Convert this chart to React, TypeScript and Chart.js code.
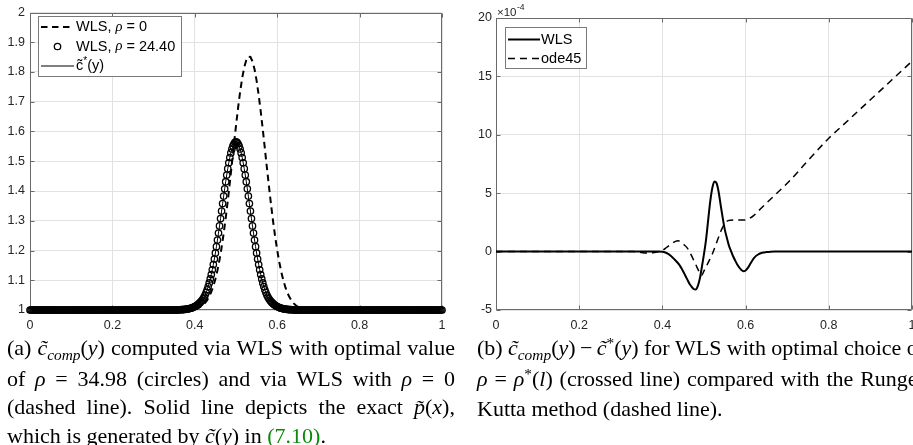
import React, { useEffect, useRef } from 'react';
import { Chart, registerables } from 'chart.js';

Chart.register(...registerables);

const SANS = "'Liberation Sans', Arial, Helvetica, sans-serif";
const SERIF = "'Liberation Serif', 'Times New Roman', Times, serif";
const GRID = '#e2e2e2';
const FRAME = '#6a6a6a';
const TICK = '#262626';

// ---------------- data: left panel ----------------
const leftXTicks = [0, 0.2, 0.4, 0.6, 0.8, 1];
const leftXTickLabels = ['0', '0.2', '0.4', '0.6', '0.8', '1'];
const leftYTicks = [1, 1.1, 1.2, 1.3, 1.4, 1.5, 1.6, 1.7, 1.8, 1.9, 2];
const leftYTickLabels = ['1', '1.1', '1.2', '1.3', '1.4', '1.5', '1.6', '1.7', '1.8', '1.9', '2'];

const circleX = [
  0, 0.0025, 0.005, 0.0075, 0.01, 0.0125, 0.015, 0.0175, 0.02, 0.0225, 0.025, 0.0275, 0.03, 0.0325, 0.035, 0.0375, 0.04, 0.0425, 0.045, 0.0475,
  0.05, 0.0525, 0.055, 0.0575, 0.06, 0.0625, 0.065, 0.0675, 0.07, 0.0725, 0.075, 0.0775, 0.08, 0.0825, 0.085, 0.0875, 0.09, 0.0925, 0.095, 0.0975,
  0.1, 0.1025, 0.105, 0.1075, 0.11, 0.1125, 0.115, 0.1175, 0.12, 0.1225, 0.125, 0.1275, 0.13, 0.1325, 0.135, 0.1375, 0.14, 0.1425, 0.145, 0.1475,
  0.15, 0.1525, 0.155, 0.1575, 0.16, 0.1625, 0.165, 0.1675, 0.17, 0.1725, 0.175, 0.1775, 0.18, 0.1825, 0.185, 0.1875, 0.19, 0.1925, 0.195, 0.1975,
  0.2, 0.2025, 0.205, 0.2075, 0.21, 0.2125, 0.215, 0.2175, 0.22, 0.2225, 0.225, 0.2275, 0.23, 0.2325, 0.235, 0.2375, 0.24, 0.2425, 0.245, 0.2475,
  0.25, 0.2525, 0.255, 0.2575, 0.26, 0.2625, 0.265, 0.2675, 0.27, 0.2725, 0.275, 0.2775, 0.28, 0.2825, 0.285, 0.2875, 0.29, 0.2925, 0.295, 0.2975,
  0.3, 0.3025, 0.305, 0.3075, 0.31, 0.3125, 0.315, 0.3175, 0.32, 0.3225, 0.325, 0.3275, 0.33, 0.3325, 0.335, 0.3375, 0.34, 0.3425, 0.345, 0.3475,
  0.35, 0.3525, 0.355, 0.3575, 0.36, 0.3625, 0.365, 0.3675, 0.37, 0.3725, 0.375, 0.3775, 0.38, 0.3825, 0.385, 0.3875, 0.39, 0.3925, 0.395, 0.3975,
  0.4, 0.4025, 0.405, 0.4075, 0.41, 0.4125, 0.415, 0.4175, 0.42, 0.4225, 0.425, 0.4275, 0.43, 0.4325, 0.435, 0.4375, 0.44, 0.4425, 0.445, 0.4475,
  0.45, 0.4525, 0.455, 0.4575, 0.46, 0.4625, 0.465, 0.4675, 0.47, 0.4725, 0.475, 0.4775, 0.48, 0.4825, 0.485, 0.4875, 0.49, 0.4925, 0.495, 0.4975,
  0.5, 0.5025, 0.505, 0.5075, 0.51, 0.5125, 0.515, 0.5175, 0.52, 0.5225, 0.525, 0.5275, 0.53, 0.5325, 0.535, 0.5375, 0.54, 0.5425, 0.545, 0.5475,
  0.55, 0.5525, 0.555, 0.5575, 0.56, 0.5625, 0.565, 0.5675, 0.57, 0.5725, 0.575, 0.5775, 0.58, 0.5825, 0.585, 0.5875, 0.59, 0.5925, 0.595, 0.5975,
  0.6, 0.6025, 0.605, 0.6075, 0.61, 0.6125, 0.615, 0.6175, 0.62, 0.6225, 0.625, 0.6275, 0.63, 0.6325, 0.635, 0.6375, 0.64, 0.6425, 0.645, 0.6475,
  0.65, 0.6525, 0.655, 0.6575, 0.66, 0.6625, 0.665, 0.6675, 0.67, 0.6725, 0.675, 0.6775, 0.68, 0.6825, 0.685, 0.6875, 0.69, 0.6925, 0.695, 0.6975,
  0.7, 0.7025, 0.705, 0.7075, 0.71, 0.7125, 0.715, 0.7175, 0.72, 0.7225, 0.725, 0.7275, 0.73, 0.7325, 0.735, 0.7375, 0.74, 0.7425, 0.745, 0.7475,
  0.75, 0.7525, 0.755, 0.7575, 0.76, 0.7625, 0.765, 0.7675, 0.77, 0.7725, 0.775, 0.7775, 0.78, 0.7825, 0.785, 0.7875, 0.79, 0.7925, 0.795, 0.7975,
  0.8, 0.8025, 0.805, 0.8075, 0.81, 0.8125, 0.815, 0.8175, 0.82, 0.8225, 0.825, 0.8275, 0.83, 0.8325, 0.835, 0.8375, 0.84, 0.8425, 0.845, 0.8475,
  0.85, 0.8525, 0.855, 0.8575, 0.86, 0.8625, 0.865, 0.8675, 0.87, 0.8725, 0.875, 0.8775, 0.88, 0.8825, 0.885, 0.8875, 0.89, 0.8925, 0.895, 0.8975,
  0.9, 0.9025, 0.905, 0.9075, 0.91, 0.9125, 0.915, 0.9175, 0.92, 0.9225, 0.925, 0.9275, 0.93, 0.9325, 0.935, 0.9375, 0.94, 0.9425, 0.945, 0.9475,
  0.95, 0.9525, 0.955, 0.9575, 0.96, 0.9625, 0.965, 0.9675, 0.97, 0.9725, 0.975, 0.9775, 0.98, 0.9825, 0.985, 0.9875, 0.99, 0.9925, 0.995, 0.9975,
  1,
];

const circleY = [
  1, 1, 1, 1, 1, 1, 1, 1, 1, 1, 1, 1, 1, 1, 1, 1, 1, 1, 1, 1,
  1, 1, 1, 1, 1, 1, 1, 1, 1, 1, 1, 1, 1, 1, 1, 1, 1, 1, 1, 1,
  1, 1, 1, 1, 1, 1, 1, 1, 1, 1, 1, 1, 1, 1, 1, 1, 1, 1, 1, 1,
  1, 1, 1, 1, 1, 1, 1, 1, 1, 1, 1, 1, 1, 1, 1, 1, 1, 1, 1, 1,
  1, 1, 1, 1, 1, 1, 1, 1, 1, 1, 1, 1, 1, 1, 1, 1, 1, 1, 1, 1,
  1, 1, 1, 1, 1, 1, 1, 1, 1, 1, 1, 1, 1, 1, 1, 1, 1, 1, 1, 1,
  1, 1, 1, 1, 1, 1, 1, 1, 1, 1, 1, 1, 1, 1, 1, 1, 1, 1, 1, 1,
  1, 1, 1, 1, 1.0005, 1.0006, 1.0008, 1.001, 1.0012, 1.0015, 1.0019, 1.0023, 1.0028, 1.0034, 1.0041, 1.0049, 1.0059, 1.007, 1.0083, 1.0098,
  1.0115, 1.0135, 1.0158, 1.0184, 1.0213, 1.0246, 1.0284, 1.0328, 1.0378, 1.0436, 1.0505, 1.0585, 1.0678, 1.0787, 1.0909, 1.1043, 1.1191, 1.1353, 1.1527, 1.1715,
  1.1917, 1.2129, 1.2352, 1.2586, 1.2827, 1.3075, 1.3326, 1.3578, 1.3828, 1.4074, 1.4313, 1.4537, 1.4751, 1.4949, 1.5126, 1.5281, 1.5411, 1.5514, 1.5589, 1.5635,
  1.565, 1.5635, 1.5589, 1.5514, 1.5411, 1.5281, 1.5126, 1.4949, 1.4751, 1.4537, 1.4313, 1.4074, 1.3828, 1.3578, 1.3326, 1.3075, 1.2827, 1.2586, 1.2352, 1.2129,
  1.1917, 1.1715, 1.1527, 1.1353, 1.1191, 1.1043, 1.0909, 1.0787, 1.0678, 1.0585, 1.0505, 1.0436, 1.0378, 1.0328, 1.0284, 1.0246, 1.0213, 1.0184, 1.0158, 1.0135,
  1.0115, 1.0098, 1.0083, 1.007, 1.0059, 1.0049, 1.0041, 1.0034, 1.0028, 1.0023, 1.0019, 1.0015, 1.0012, 1.001, 1.0008, 1.0006, 1.0005, 1, 1, 1,
  1, 1, 1, 1, 1, 1, 1, 1, 1, 1, 1, 1, 1, 1, 1, 1, 1, 1, 1, 1,
  1, 1, 1, 1, 1, 1, 1, 1, 1, 1, 1, 1, 1, 1, 1, 1, 1, 1, 1, 1,
  1, 1, 1, 1, 1, 1, 1, 1, 1, 1, 1, 1, 1, 1, 1, 1, 1, 1, 1, 1,
  1, 1, 1, 1, 1, 1, 1, 1, 1, 1, 1, 1, 1, 1, 1, 1, 1, 1, 1, 1,
  1, 1, 1, 1, 1, 1, 1, 1, 1, 1, 1, 1, 1, 1, 1, 1, 1, 1, 1, 1,
  1, 1, 1, 1, 1, 1, 1, 1, 1, 1, 1, 1, 1, 1, 1, 1, 1, 1, 1, 1,
  1, 1, 1, 1, 1, 1, 1, 1, 1, 1, 1, 1, 1, 1, 1, 1, 1, 1, 1, 1,
  1,
];

const dashX = [
  0, 0.1, 0.2, 0.3, 0.38, 0.385, 0.39, 0.395, 0.4, 0.405, 0.41, 0.415, 0.42, 0.425, 0.43, 0.435, 0.44, 0.445, 0.45, 0.455,
  0.46, 0.465, 0.47, 0.475, 0.48, 0.485, 0.49, 0.495, 0.5, 0.505, 0.51, 0.515, 0.52, 0.525, 0.53, 0.535, 0.54, 0.545, 0.55, 0.555,
  0.56, 0.565, 0.57, 0.575, 0.58, 0.585, 0.59, 0.595, 0.6, 0.605, 0.61, 0.615, 0.62, 0.625, 0.63, 0.635, 0.64, 0.645, 0.65, 0.655,
  0.66, 0.665, 0.67, 0.675, 0.68, 0.8, 0.9, 1,
];
const dashY = [
  1, 1, 1, 1, 1.0006, 1.001, 1.0016, 1.0024, 1.0037, 1.0055, 1.0081, 1.0118, 1.0169, 1.0238, 1.033, 1.0451, 1.0606, 1.0801, 1.1043, 1.1337,
  1.1688, 1.2098, 1.2567, 1.3091, 1.3665, 1.4277, 1.4915, 1.5561, 1.6194, 1.6792, 1.7332, 1.7794, 1.8155, 1.84, 1.8519, 1.8506, 1.8361, 1.8091, 1.7709, 1.723,
  1.6677, 1.607, 1.5432, 1.4786, 1.4152, 1.3546, 1.2981, 1.2468, 1.2011, 1.1613, 1.1274, 1.0991, 1.0758, 1.0571, 1.0424, 1.031, 1.0223, 1.0158, 1.011, 1.0076,
  1.0051, 1.0034, 1.0022, 1.0014, 1.0009, 1, 1, 1,
];

// ---------------- data: right panel (values in units of 1e-4) ----------------
const rightXTicks = [0, 0.2, 0.4, 0.6, 0.8, 1];
const rightXTickLabels = ['0', '0.2', '0.4', '0.6', '0.8', '1'];
const rightYTicks = [-5, 0, 5, 10, 15, 20];
const rightYTickLabels = ['-5', '0', '5', '10', '15', '20'];

const wlsX = [
  0, 0.1, 0.2, 0.3, 0.38, 0.39, 0.4, 0.41, 0.42, 0.43, 0.44, 0.45, 0.455, 0.46, 0.465, 0.47, 0.475, 0.48, 0.485, 0.49,
  0.495, 0.5, 0.505, 0.51, 0.515, 0.52, 0.525, 0.53, 0.535, 0.54, 0.545, 0.55, 0.555, 0.56, 0.565, 0.57, 0.575, 0.58, 0.585, 0.59,
  0.595, 0.6, 0.605, 0.61, 0.615, 0.62, 0.63, 0.64, 0.65, 0.66, 0.67, 0.7, 0.8, 0.9, 1,
];
const wlsY = [
  0, 0, 0, 0, 0, 0, -0.02, -0.12, -0.35, -0.7, -1.1, -1.7, -2.05, -2.4, -2.75, -3.0, -3.2, -3.24, -2.95, -2.3,
  -1.3, -0.2, 1.05, 2.7, 4.3, 5.44, 6.0, 5.87, 5.15, 4.0, 2.88, 1.88, 1.17, 0.5, 0.05, -0.4, -0.77, -1.11, -1.37, -1.58,
  -1.68, -1.62, -1.42, -1.12, -0.82, -0.55, -0.25, -0.1, -0.04, -0.01, 0, 0, 0, 0, 0,
];

const odeX = [
  0, 0.1, 0.2, 0.3, 0.33, 0.34, 0.35, 0.36, 0.37, 0.38, 0.39, 0.4, 0.41, 0.42, 0.43, 0.438, 0.445, 0.45, 0.46, 0.47,
  0.48, 0.488, 0.494, 0.5, 0.51, 0.52, 0.53, 0.54, 0.546, 0.552, 0.558, 0.57, 0.58, 0.59, 0.6, 0.61, 0.62, 0.63, 0.65, 0.7,
  0.725, 0.75, 0.8, 0.85, 0.9, 0.95, 1,
];
const odeY = [
  0, 0, 0, 0, 0, -0.03, -0.08, -0.12, -0.12, -0.08, -0.02, 0.1, 0.35, 0.62, 0.85, 0.92, 0.8, 0.65, 0.3, -0.35,
  -1.1, -1.7, -2.05, -1.65, -0.95, -0.2, 0.74, 1.7, 2.16, 2.5, 2.65, 2.7, 2.7, 2.7, 2.72, 2.85, 3.1, 3.45, 4.15, 5.85,
  6.8, 7.8, 9.7, 11.35, 13.0, 14.65, 16.3,
];

// ---------------- helpers ----------------
function pts(xs: number[], ys: number[]) {
  return xs.map((x, i) => ({ x, y: ys[i] }));
}

function drawRich(ctx: CanvasRenderingContext2D, text: string, x: number, y: number, size: number) {
  const segs: { t: string; k: string }[] = [];
  let buf = '';
  for (const ch of text) {
    if (ch === 'ρ' || ch === '*') {
      if (buf) segs.push({ t: buf, k: 'n' });
      buf = '';
      segs.push({ t: ch, k: ch === 'ρ' ? 'i' : 's' });
    } else buf += ch;
  }
  if (buf) segs.push({ t: buf, k: 'n' });
  ctx.textBaseline = 'middle';
  ctx.textAlign = 'left';
  ctx.fillStyle = '#000';
  let cx = x;
  for (const s of segs) {
    const fs = s.k === 's' ? size * 0.7 : size;
    ctx.font = s.k === 'i' ? `italic ${fs}px ${SERIF}` : `${fs}px ${SANS}`;
    const dy = s.k === 's' ? -size * 0.3 : 0;
    ctx.fillText(s.t, cx, y + dy);
    cx += ctx.measureText(s.t).width;
  }
}

const framePlugin = {
  id: 'matlabFrame',
  beforeDatasetsDraw(chart: any) {
    const ctx: CanvasRenderingContext2D = chart.ctx;
    const a = chart.chartArea;
    const xs = chart.scales.x;
    const ys = chart.scales.y;
    ctx.save();
    ctx.strokeStyle = FRAME;
    ctx.lineWidth = 1;
    ctx.setLineDash([]);
    ctx.beginPath();
    const L = Math.round(a.left) + 0.5, R = Math.round(a.right) - 0.5;
    const T = Math.round(a.top) + 0.5, B = Math.round(a.bottom) - 0.5;
    for (const t of xs.ticks) {
      const px = Math.round(xs.getPixelForValue(t.value)) + 0.5;
      ctx.moveTo(px, B); ctx.lineTo(px, B - 4);
      ctx.moveTo(px, T); ctx.lineTo(px, T + 4);
    }
    for (const t of ys.ticks) {
      const py = Math.round(ys.getPixelForValue(t.value)) + 0.5;
      ctx.moveTo(L, py); ctx.lineTo(L + 4, py);
      ctx.moveTo(R, py); ctx.lineTo(R - 4, py);
    }
    ctx.moveTo(L, T); ctx.lineTo(R, T); ctx.lineTo(R, B); ctx.lineTo(L, B); ctx.closePath();
    ctx.stroke();
    ctx.restore();
  },
  afterDatasetsDraw(chart: any, _args: any, opts: any) {
    const ctx: CanvasRenderingContext2D = chart.ctx;
    ctx.save();
    const lg = opts.legend;
    if (lg) {
      ctx.fillStyle = '#fff';
      ctx.fillRect(lg.x, lg.y, lg.w, lg.h);
      ctx.strokeStyle = '#7a7a7a';
      ctx.lineWidth = 1;
      ctx.strokeRect(lg.x + 0.5, lg.y + 0.5, lg.w, lg.h);
      chart.data.datasets.forEach((ds: any, i: number) => {
        const cy = lg.rowY[i];
        ctx.strokeStyle = '#000';
        if (ds.showLine === false) {
          ctx.setLineDash([]);
          ctx.lineWidth = ds.pointBorderWidth;
          ctx.beginPath();
          ctx.arc((lg.sx0 + lg.sx1) / 2, cy, ds.pointRadius, 0, Math.PI * 2);
          ctx.stroke();
        } else {
          ctx.setLineDash(ds.borderDash || []);
          ctx.lineWidth = ds.borderWidth;
          ctx.beginPath();
          ctx.moveTo(lg.sx0, cy);
          ctx.lineTo(lg.sx1, cy);
          ctx.stroke();
          ctx.setLineDash([]);
        }
        drawRich(ctx, ds.label, lg.textX, cy, lg.size);
      });
    }
    const ex = opts.exponent;
    if (ex) {
      ctx.fillStyle = TICK;
      ctx.textBaseline = 'middle';
      ctx.textAlign = 'left';
      ctx.font = `${ex.size}px ${SANS}`;
      ctx.fillText(ex.base, ex.x, ex.y);
      const w = ctx.measureText(ex.base).width;
      ctx.font = `${ex.size * 0.75}px ${SANS}`;
      ctx.fillText(ex.exp, ex.x + w + 0.5, ex.y - ex.size * 0.45);
    }
    ctx.restore();
  },
};

function axis(ticks: number[], labels: string[], min: number, max: number, fit: any, padding: number) {
  return {
    type: 'linear',
    min,
    max,
    afterBuildTicks: (s: any) => {
      s.ticks = ticks.map((v) => ({ value: v }));
    },
    afterFit: fit,
    grid: { color: GRID, lineWidth: 1, drawTicks: false },
    border: { display: false },
    ticks: {
      padding,
      color: TICK,
      font: { family: SANS, size: 12.5 },
      maxRotation: 0,
      autoSkip: false,
      callback: (_v: any, i: number) => labels[i],
    },
  };
}

function leftConfig(): any {
  return {
    type: 'line',
    data: {
      datasets: [
        {
          label: 'WLS, ρ = 0',
          data: pts(dashX, dashY),
          borderColor: '#000',
          borderWidth: 2,
          borderDash: [6.5, 4.5],
          pointRadius: 0,
          fill: false,
        },
        {
          label: 'WLS, ρ = 24.40',
          data: pts(circleX, circleY),
          showLine: false,
          pointRadius: 3.2,
          pointBorderWidth: 1.3,
          pointBorderColor: '#000',
          pointBackgroundColor: 'rgba(0,0,0,0)',
          clip: 8,
        },
        {
          label: 'c̃*(y)',
          data: pts(circleX, circleY),
          borderColor: '#000',
          borderWidth: 1,
          pointRadius: 0,
          fill: false,
        },
      ],
    },
    options: {
      responsive: false,
      animation: false,
      events: [],
      layout: { padding: { left: 0, top: 7, right: 18, bottom: 0 } },
      scales: {
        x: axis(leftXTicks, leftXTickLabels, 0, 1, (s: any) => { s.height = 30; }, 8),
        y: axis(leftYTicks, leftYTickLabels, 1, 2, (s: any) => { s.width = 30; }, 5),
      },
      plugins: {
        legend: { display: false },
        tooltip: { enabled: false },
        matlabFrame: {
          legend: { x: 38, y: 16, w: 143, h: 60, sx0: 41, sx1: 74, textX: 76, rowY: [27, 46.5, 66], size: 14.5 },
        },
      },
    },
    plugins: [framePlugin],
  };
}

function rightConfig(): any {
  return {
    type: 'line',
    data: {
      datasets: [
        {
          label: 'WLS',
          data: pts(wlsX, wlsY),
          borderColor: '#000',
          borderWidth: 2,
          pointRadius: 0,
          cubicInterpolationMode: 'monotone',
          fill: false,
        },
        {
          label: 'ode45',
          data: pts(odeX, odeY),
          borderColor: '#000',
          borderWidth: 1.5,
          borderDash: [7, 5],
          pointRadius: 0,
          cubicInterpolationMode: 'monotone',
          fill: false,
        },
      ],
    },
    options: {
      responsive: false,
      animation: false,
      events: [],
      layout: { padding: { left: 0, top: 18, right: 18, bottom: 0 } },
      scales: {
        x: axis(rightXTicks, rightXTickLabels, 0, 1, (s: any) => { s.height = 30; }, 8),
        y: axis(rightYTicks, rightYTickLabels, -5, 20, (s: any) => { s.width = 36; }, 4),
      },
      plugins: {
        legend: { display: false },
        tooltip: { enabled: false },
        matlabFrame: {
          legend: { x: 45, y: 27, w: 81, h: 41, sx0: 48, sx1: 80, textX: 81, rowY: [39.5, 58.5], size: 14.5 },
          exponent: { x: 37, y: 13, base: '×10', exp: '-4', size: 11.5 },
        },
      },
    },
    plugins: [framePlugin],
  };
}

function ChartCanvas({ make, left, width, height }: any) {
  const ref = useRef<HTMLCanvasElement | null>(null);
  useEffect(() => {
    if (!ref.current) return;
    const chart = new Chart(ref.current, make());
    return () => chart.destroy();
  }, []);
  return (
    <canvas
      ref={ref}
      width={width}
      height={height}
      style={{ position: 'absolute', left, top: 0, width, height, display: 'block' }}
    />
  );
}

const Sub = ({ children }: any) => (
  <span style={{ fontSize: '0.7em', position: 'relative', top: '0.3em', fontStyle: 'italic' }}>{children}</span>
);
const Sup = ({ children }: any) => (
  <span style={{ fontSize: '0.7em', position: 'relative', top: '-0.45em' }}>{children}</span>
);
const I = ({ children }: any) => <i>{children}</i>;

function JLine({ words }: any) {
  return (
    <div style={{ display: 'flex', justifyContent: 'space-between', whiteSpace: 'nowrap' }}>
      {words.map((w: any, i: number) => (
        <span key={i}>{w}</span>
      ))}
    </div>
  );
}

const captionStyle: any = {
  position: 'absolute',
  top: 334,
  width: 448,
  fontFamily: SERIF,
  fontSize: 22,
  lineHeight: '28.5px',
  color: '#000',
};

export default function App() {
  return (
    <div
      style={{
        position: 'fixed',
        left: 0,
        top: 0,
        width: 913,
        height: 445,
        overflow: 'hidden',
        background: '#fff',
      }}
    >
      <ChartCanvas make={leftConfig} left={0} width={460} height={340} />
      <ChartCanvas make={rightConfig} left={460} width={470} height={340} />

      <div style={{ ...captionStyle, left: 7 }}>
        <JLine
          words={[
            '(a)',
            <>
              <I>c̃</I>
              <Sub>comp</Sub>(<I>y</I>)
            </>,
            'computed', 'via', 'WLS', 'with', 'optimal', 'value',
          ]}
        />
        <JLine
          words={['of', <I>ρ</I>, '=', '34.98', '(circles)', 'and', 'via', 'WLS', 'with', <I>ρ</I>, '=', '0']}
        />
        <JLine
          words={[
            '(dashed', 'line).', 'Solid', 'line', 'depicts', 'the', 'exact',
            <>
              <I>p̃</I>(<I>x</I>),
            </>,
          ]}
        />
        <div style={{ whiteSpace: 'nowrap' }}>
          which is generated by <I>c̃</I>(<I>y</I>) in <span style={{ color: '#0a8a0a' }}>(7.10)</span>.
        </div>
      </div>

      <div style={{ ...captionStyle, left: 477 }}>
        <JLine
          words={[
            '(b)',
            <>
              <I>c̃</I>
              <Sub>comp</Sub>(<I>y</I>)&thinsp;−&thinsp;<I>c̃</I>
              <Sup>*</Sup>(<I>y</I>)
            </>,
            'for', 'WLS', 'with', 'optimal', 'choice', 'of',
          ]}
        />
        <JLine
          words={[
            <I>ρ</I>, '=',
            <>
              <I>ρ</I>
              <Sup>*</Sup>(<I>l</I>)
            </>,
            '(crossed', 'line)', 'compared', 'with', 'the', 'Runge-',
          ]}
        />
        <div style={{ whiteSpace: 'nowrap' }}>Kutta method (dashed line).</div>
      </div>
    </div>
  );
}
